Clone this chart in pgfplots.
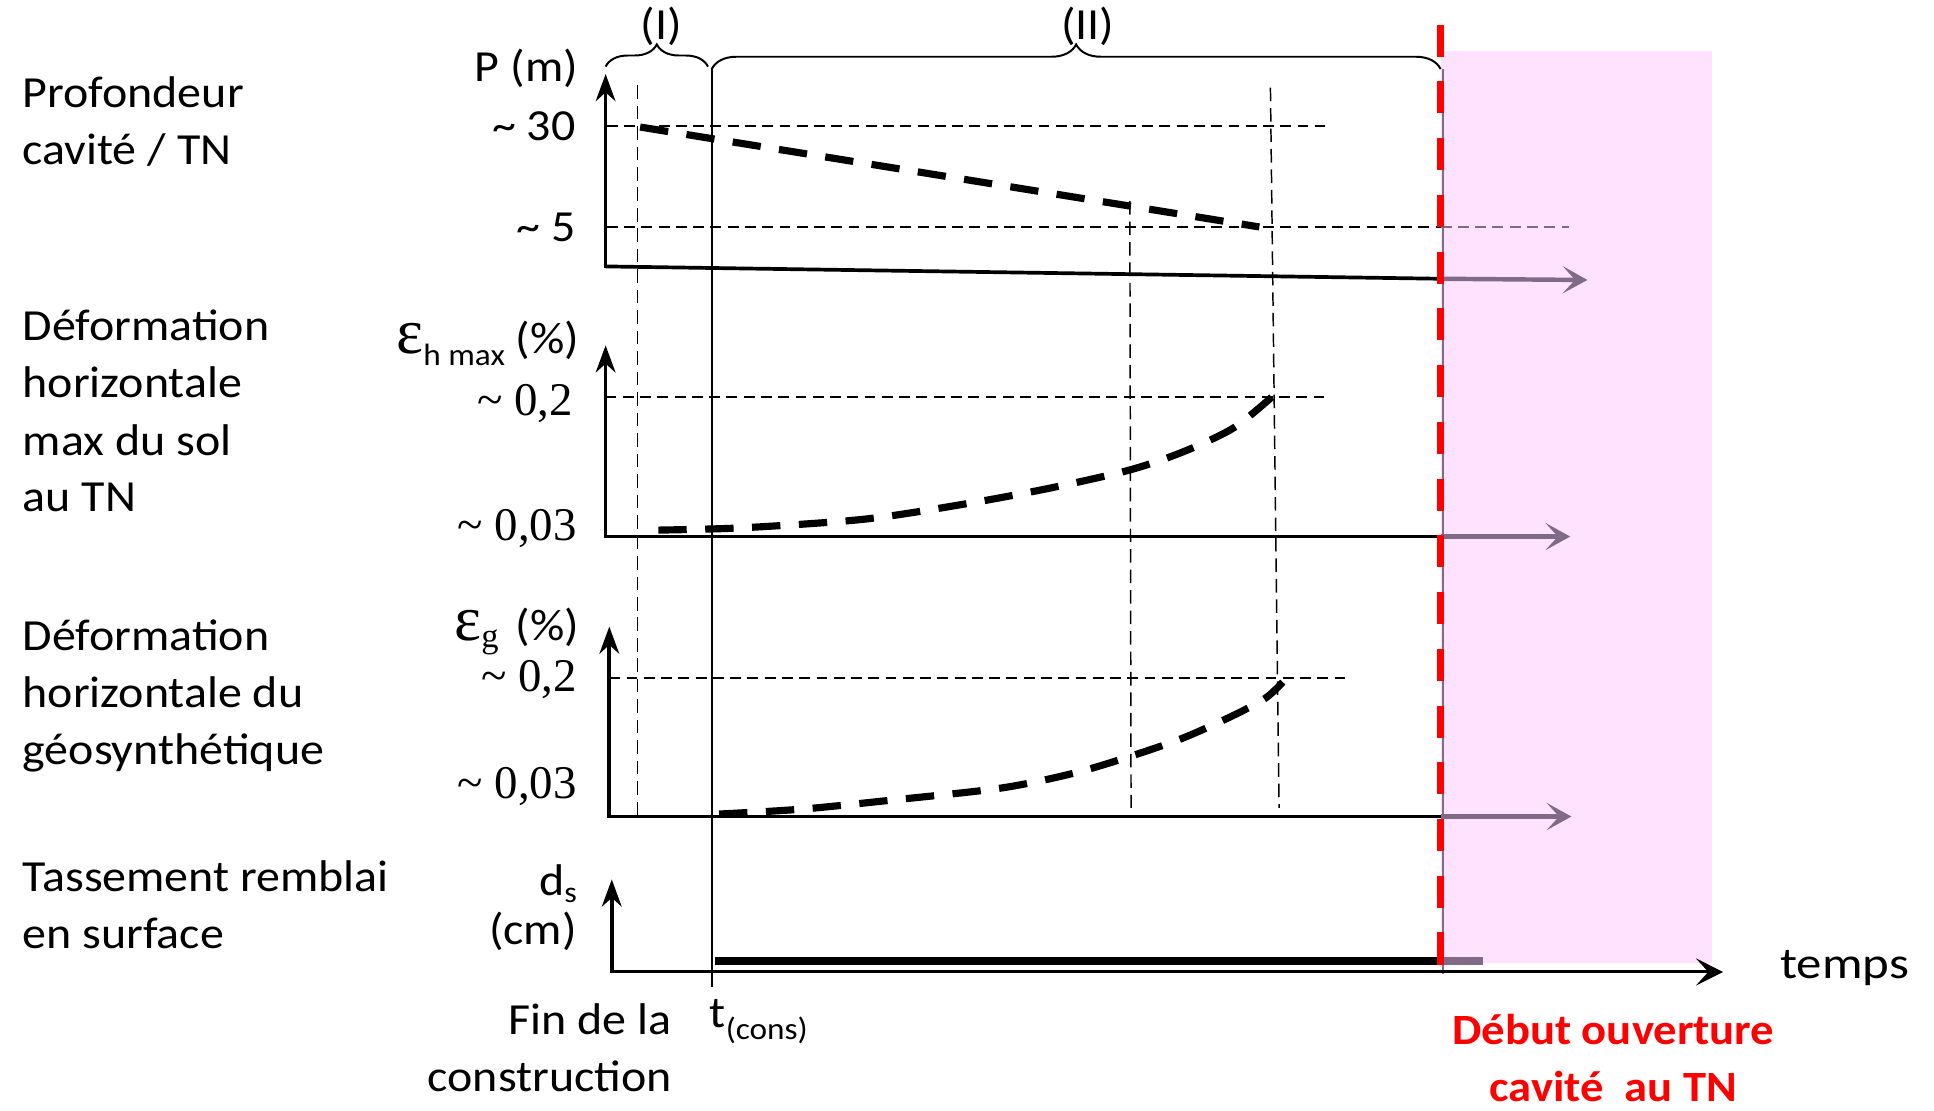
\documentclass[border=0pt]{standalone}
\usepackage{pgfplots}
\pgfplotsset{compat=1.18}
\usepackage{fontspec}
\setmainfont{Carlito}[FakeStretch=1.08]
\newfontfamily\tnr{Liberation Serif}
\usetikzlibrary{arrows.meta,decorations.pathreplacing}
\definecolor{pinkbg}{RGB}{254,226,254}
\definecolor{arrgray}{RGB}{128,106,136}
\definecolor{redl}{RGB}{255,0,0}
\newcommand{\eps}{{\tnr\fontsize{26}{26}\selectfont ε}}

\begin{document}
\begin{tikzpicture}[
  lbl/.style={inner sep=0pt, font=\fontsize{18}{21}\selectfont},
  num/.style={inner sep=0pt, font=\tnr\fontsize{19}{21}\selectfont},
  axarr/.style={black, line width=1.5pt, -{Stealth[length=11pt,width=8pt]}},
  grarr/.style={arrgray, line width=1.8pt, -{Stealth[length=10pt,width=11pt,inset=5pt]}},
  guide/.style={black, line width=0.8pt, dash pattern=on 4.4pt off 2.6pt},
  vguide/.style={black, line width=0.6pt, dash pattern=on 5.5pt off 2.8pt},
  curve/.style={black, line width=2.9pt, dash pattern=on 11.5pt off 7.5pt},
]
\begin{axis}[
  width=784pt, height=450pt, scale only axis,
  xmin=0, xmax=1568, ymin=0, ymax=900, y dir=reverse,
  hide axis, clip=false,
]
% page frame
\addplot[draw=none] coordinates {(0,0) (1568,900)};

% pink zone after the opening
\addplot[draw=none, fill=pinkbg] coordinates {(1168,41) (1388,41) (1388,781) (1168,781)};

% vertical guides
\addplot[vguide] coordinates {(517,69) (517,662)};
\addplot[vguide] coordinates {(1030,71) (1037,655)};
\addplot[vguide] coordinates {(916,163) (917,655)};
\addplot[black, line width=0.7pt] coordinates {(577,56) (577,800)};
\addplot[arrgray, line width=1pt] coordinates {(1170,56) (1170,790)};

% panel 1 : profondeur
\addplot[guide] coordinates {(492,102) (1074,102)};
\addplot[guide] coordinates {(492,184) (1168,184)};
\addplot[arrgray, line width=0.8pt, dash pattern=on 4.4pt off 2.6pt] coordinates {(1168,184) (1272,184)};
\addplot[curve] coordinates {(519,103) (1021,184)};
\addplot[black, line width=1.5pt] coordinates {(491,216) (1168,226)};
\addplot[grarr] coordinates {(1168,226) (1287,227)};
\addplot[axarr] coordinates {(491,217) (491,60)};

% panel 2 : eps h max (drawn from its end so that a dash reaches 0,2)
\addplot[guide] coordinates {(491,322) (1075,322)};
\addplot[curve, smooth] coordinates {(1031,322) (1000,347) (960,366) (916,381) (850,396) (780,409) (700,421) (600,428) (520,430)};
\addplot[black, line width=1.5pt] coordinates {(491,435) (1168,435)};
\addplot[grarr] coordinates {(1168,435) (1273,435)};
\addplot[axarr] coordinates {(491,436) (491,280)};

% panel 3 : eps g
\addplot[guide] coordinates {(494,550) (1095,550)};
\addplot[curve, smooth] coordinates {(583,660) (650,656) (720,649) (811,639) (870,627) (917,613) (960,598) (1000,580) (1026,566) (1040,553)};
\addplot[black, line width=1.5pt] coordinates {(494,662) (1168,662)};
\addplot[grarr] coordinates {(1168,662) (1274,662)};
\addplot[axarr] coordinates {(494,663) (494,508)};

% panel 4 : tassement + axe du temps
\addplot[black, line width=3pt] coordinates {(580,779) (1168,779)};
\addplot[arrgray, line width=3pt] coordinates {(1168,779) (1202,779)};
\addplot[black, line width=1.2pt, -{Stealth[length=11pt,width=11pt,inset=5pt]}] coordinates {(496,788) (1397,788)};
\addplot[axarr] coordinates {(496,789) (496,713)};

% red line: opening of the cavity
\addplot[redl, line width=3pt, dash pattern=on 13pt off 10pt] coordinates {(1168,20) (1168,782)};

% braces
\draw[black, line width=0.8pt, decorate, decoration={brace, amplitude=9pt}]
  (axis cs:491,54) -- (axis cs:574,54);
\draw[black, line width=0.8pt, decorate, decoration={brace, amplitude=10pt}]
  (axis cs:577,56) -- (axis cs:1168,56);
\node[lbl, anchor=base] at (axis cs:536,32) {(I)};
\node[lbl, anchor=base] at (axis cs:882,32) {(II)};

% left descriptions
\node[lbl, anchor=base west] at (axis cs:18,87) {Profondeur};
\node[lbl, anchor=base west] at (axis cs:18,133) {cavité / TN};
\node[lbl, anchor=base west] at (axis cs:18,276) {Déformation};
\node[lbl, anchor=base west] at (axis cs:18,322) {horizontale};
\node[lbl, anchor=base west] at (axis cs:18,369) {max du sol};
\node[lbl, anchor=base west] at (axis cs:18,415) {au TN};
\node[lbl, anchor=base west] at (axis cs:18,527) {Déformation};
\node[lbl, anchor=base west] at (axis cs:18,574) {horizontale du};
\node[lbl, anchor=base west] at (axis cs:18,620) {géosynthétique};
\node[lbl, anchor=base west] at (axis cs:18,723) {Tassement remblai};
\node[lbl, anchor=base west] at (axis cs:18,769) {en surface};

% axis names and levels
\node[lbl, anchor=base east] at (axis cs:469,66) {P (m)};
\node[lbl, anchor=base east] at (axis cs:467,114) {\char`~\ 30};
\node[lbl, anchor=base east] at (axis cs:467,196) {\char`~\ 5};

\node[lbl, anchor=base east] at (axis cs:470,287) {\eps\raisebox{-4.5pt}{\fontsize{12.5}{13}\selectfont h max} (\%)};
\node[num, anchor=base east] at (axis cs:465,337) {\char`~\ 0,2};
\node[num, anchor=base east] at (axis cs:468,438) {\char`~\ 0,03};

\node[lbl, anchor=base east] at (axis cs:470,519) {\eps\raisebox{-3pt}{\tnr\fontsize{14}{14}\selectfont g}\hspace{7pt}(\%)};
\node[num, anchor=base east] at (axis cs:468,561) {\char`~\ 0,2};
\node[num, anchor=base east] at (axis cs:468,647) {\char`~\ 0,03};

\node[lbl, anchor=base east] at (axis cs:468,726) {d\raisebox{-3pt}{\fontsize{12}{12}\selectfont s}};
\node[lbl, anchor=base east] at (axis cs:468,766) {(cm)};

% bottom texts
\node[lbl, anchor=base east] at (axis cs:545,839) {Fin de la};
\node[lbl, anchor=base east] at (axis cs:545,885) {construction};
\node[lbl, anchor=base west] at (axis cs:575,833) {t\raisebox{-5pt}{\fontsize{12.5}{13}\selectfont (cons)}};
\node[lbl, anchor=base west] at (axis cs:1443,793) {\scalebox{1.06}[1]{temps}};
\node[lbl, anchor=base, text=redl, font=\bfseries\fontsize{17.5}{21}\selectfont] at (axis cs:1308,847) {Début ouverture};
\node[lbl, anchor=base, text=redl, font=\bfseries\fontsize{17.5}{21}\selectfont] at (axis cs:1308,893) {cavité\ \ au TN};
\end{axis}
\end{tikzpicture}
\end{document}
